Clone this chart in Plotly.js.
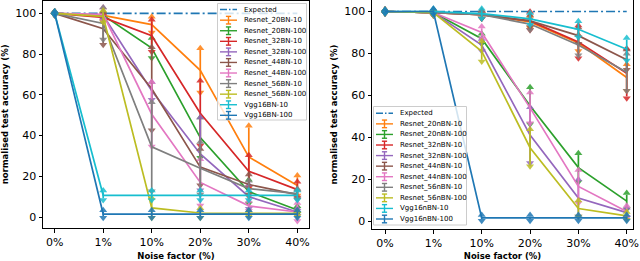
<!DOCTYPE html>
<html><head><meta charset="utf-8">
<script src="https://cdn.plot.ly/plotly-3.0.1.min.js"></script>
<style>html,body{margin:0;padding:0;background:#fff}#chart{width:640px;height:261px}</style>
</head><body><div id="chart"></div>
<script>
// ---------- data ----------
const noise = ['0%', '1%', '10%', '20%', '30%', '40%'];
const yTicks = [0, 20, 40, 60, 80, 100];
const expected = [100, 100, 100, 100, 100, 100];

const colors = ['#ff7f0e', '#2ca02c', '#d62728', '#9467bd', '#8c564b', '#e377c2', '#7f7f7f', '#bcbd22', '#17becf', '#1f77b4'];
const expectedColor = '#1f77b4';

// Left panel: BN
const namesBN = ['Resnet_20BN-10', 'Resnet_20BN-100', 'Resnet_32BN-10', 'Resnet_32BN-100', 'Resnet_44BN-10',
  'Resnet_44BN-100', 'Resnet_56BN-10', 'Resnet_56BN-100', 'Vgg16BN-10', 'Vgg16BN-100'];
const bn_r20_10 = [100, 99, 94.5, 72, 29.5, 15.5];
const bn_r20_10_err = [0, 1, 3, 10, 14.5, 4];
const bn_r20_100 = [100, 99, 83, 39, 12.5, 3.5];
const bn_r20_100_err = [0, 1, 4, 9, 5, 1];
const bn_r32_10 = [100, 98, 89, 51, 22.5, 13.5];
const bn_r32_10_err = [0, 1, 7, 15, 7, 3];
const bn_r32_100 = [100, 99, 62, 31, 10, 2.5];
const bn_r32_100_err = [0, 1, 3.5, 17, 5, 1];
const bn_r44_10 = [100, 92.5, 63, 24.5, 16, 11];
const bn_r44_10_err = [0, 7, 19.5, 8, 4, 1.5];
const bn_r44_100 = [100, 99.5, 50.5, 17, 5.5, 2.5];
const bn_r44_100_err = [0, 2.5, 15, 10.5, 1.5, 3.5];
const bn_r56_10 = [100, 95, 34.5, 24, 14, 11.5];
const bn_r56_10_err = [0, 7, 21, 12, 3, 1.5];
const bn_r56_100 = [100, 98.5, 4.5, 2, 1.8, 1.8];
const bn_r56_100_err = [0, 2, 4, 1.5, 0.5, 0.5];
const bn_vgg_10 = [100, 10.7, 10.7, 10.7, 10.7, 10.7];
const bn_vgg_10_err = [0, 1.5, 1.5, 1.5, 1.5, 1.5];
const bn_vgg_100 = [100, 1.5, 1.5, 1.5, 1.5, 1.5];
const bn_vgg_100_err = [0, 1, 1, 1, 1, 1];

// Right panel: nBN
const namesNBN = ['Resnet_20nBN-10', 'Resnet_20nBN-100', 'Resnet_32nBN-10', 'Resnet_32nBN-100', 'Resnet_44nBN-10',
  'Resnet_44nBN-100', 'Resnet_56nBN-10', 'Resnet_56nBN-100', 'Vgg16nBN-10', 'Vgg16nBN-100'];
const nbn_r20_10 = [100, 99.5, 98.5, 95, 85, 68.5];
const nbn_r20_10_err = [0, 0.5, 1, 2, 3, 5.5];
const nbn_r20_100 = [100, 99.5, 87, 55, 25.5, 9.5];
const nbn_r20_100_err = [0, 0.5, 1.5, 8, 6, 3];
const nbn_r32_10 = [100, 99.5, 98.5, 95.5, 85.5, 70.5];
const nbn_r32_10_err = [0, 0.5, 1, 3.5, 7, 11];
const nbn_r32_100 = [100, 99.5, 84, 41, 11, 4];
const nbn_r32_100_err = [0, 0.5, 2, 12.5, 8, 1.5];
const nbn_r44_10 = [100, 99.5, 98.5, 95.5, 88.5, 77];
const nbn_r44_10_err = [0, 0.5, 1, 2, 3, 4];
const nbn_r44_100 = [100, 99.5, 90, 54, 16.5, 4.5];
const nbn_r44_100_err = [0, 0.5, 2, 6.5, 7, 2];
const nbn_r56_10 = [100, 99.5, 98.5, 94, 84, 71];
const nbn_r56_10_err = [0, 0.5, 1, 2, 4, 8];
const nbn_r56_100 = [100, 99.5, 81, 35, 6, 2.5];
const nbn_r56_100_err = [0, 0.5, 4, 8, 3, 1];
const nbn_vgg_10 = [100, 100, 99, 96.5, 91.5, 82];
const nbn_vgg_10_err = [0, 0.5, 1.5, 2, 3, 4.5];
const nbn_vgg_100 = [100, 100, 1.5, 1.5, 1.5, 1.5];
const nbn_vgg_100_err = [0, 0.5, 0.5, 0.5, 0.5, 0.5];

const seriesBN = [
  [bn_r20_10, bn_r20_10_err], [bn_r20_100, bn_r20_100_err], [bn_r32_10, bn_r32_10_err], [bn_r32_100, bn_r32_100_err],
  [bn_r44_10, bn_r44_10_err], [bn_r44_100, bn_r44_100_err], [bn_r56_10, bn_r56_10_err], [bn_r56_100, bn_r56_100_err],
  [bn_vgg_10, bn_vgg_10_err], [bn_vgg_100, bn_vgg_100_err]];
const seriesNBN = [
  [nbn_r20_10, nbn_r20_10_err], [nbn_r20_100, nbn_r20_100_err], [nbn_r32_10, nbn_r32_10_err], [nbn_r32_100, nbn_r32_100_err],
  [nbn_r44_10, nbn_r44_10_err], [nbn_r44_100, nbn_r44_100_err], [nbn_r56_10, nbn_r56_10_err], [nbn_r56_100, nbn_r56_100_err],
  [nbn_vgg_10, nbn_vgg_10_err], [nbn_vgg_100, nbn_vgg_100_err]];

// ---------- build ----------
const W = 640, H = 261;
const FONT = 'DejaVu Sans, Liberation Sans, sans-serif';
const MS = 7;
const px = x => x / W;
const py = y => 1 - y / H;

const traces = [];
function addPanel(series, xa, ya) {
  traces.push({x: noise, y: expected, type: 'scatter', mode: 'lines', xaxis: xa, yaxis: ya, showlegend: false,
    line: {color: expectedColor, width: 1.6, dash: '9px,3px,2px,3px'}, hoverinfo: 'skip'});
  series.forEach((s, i) => {
    const vals = s[0], errs = s[1], c = colors[i];
    traces.push({x: noise, y: vals, type: 'scatter', mode: 'lines', xaxis: xa, yaxis: ya, showlegend: false,
      line: {color: c, width: 1.7},
      error_y: {type: 'data', array: errs, visible: true, color: c, thickness: 1.7, width: 0}});
    traces.push({x: noise, y: vals.map((v, k) => v + errs[k]), type: 'scatter', mode: 'markers', xaxis: xa, yaxis: ya,
      showlegend: false, marker: {symbol: 'triangle-down', angle: 180, standoff: MS / 4, size: MS, color: c, opacity: 0.85}});
    traces.push({x: noise, y: vals.map((v, k) => v - errs[k]), type: 'scatter', mode: 'markers', xaxis: xa, yaxis: ya,
      showlegend: false, marker: {symbol: 'triangle-down', angle: 0, standoff: MS / 4, size: MS, color: c, opacity: 0.85}});
  });
}
addPanel(seriesBN, 'x', 'y');
addPanel(seriesNBN, 'x2', 'y2');

const shapes = [], annotations = [];
function addLegend(names, left, right, top, bottom, firstY, step) {
  shapes.push({type: 'rect', xref: 'paper', yref: 'paper', x0: px(left), x1: px(right), y0: py(bottom), y1: py(top),
    fillcolor: 'rgba(255,255,255,0.8)', line: {color: '#cccccc', width: 1}});
  const sx0 = left + 2.5, sx1 = left + 19.5, xc = (sx0 + sx1) / 2, tx = left + 24;
  const labels = ['Expected'].concat(names);
  labels.forEach((lab, i) => {
    const yy = firstY + step * i;
    if (i === 0) {
      shapes.push({type: 'line', xref: 'paper', yref: 'paper', x0: px(sx0), x1: px(sx1), y0: py(yy), y1: py(yy),
        line: {color: expectedColor, width: 1.5, dash: '7px,2px,1.5px,2px'}});
    } else {
      const c = colors[i - 1];
      const ln = {color: c, width: 1.4};
      shapes.push({type: 'line', xref: 'paper', yref: 'paper', x0: px(sx0), x1: px(sx1), y0: py(yy), y1: py(yy), line: ln});
      shapes.push({type: 'line', xref: 'paper', yref: 'paper', x0: px(xc), x1: px(xc), y0: py(yy - 3.8), y1: py(yy + 3.8), line: ln});
      shapes.push({type: 'line', xref: 'paper', yref: 'paper', x0: px(xc - 2.6), x1: px(xc + 2.6), y0: py(yy - 3.8), y1: py(yy - 3.8), line: ln});
      shapes.push({type: 'line', xref: 'paper', yref: 'paper', x0: px(xc - 2.6), x1: px(xc + 2.6), y0: py(yy + 3.8), y1: py(yy + 3.8), line: ln});
    }
    annotations.push({xref: 'paper', yref: 'paper', x: px(tx), y: py(yy), xanchor: 'left', yanchor: 'middle',
      text: lab, showarrow: false, font: {family: FONT, size: 7, color: '#000'}});
  });
}
addLegend(namesBN, 217.5, 306.5, 3.5, 120, 9.6, 10.57);
addLegend(namesNBN, 373.5, 466.5, 106.5, 225, 113.3, 10.57);

function xAxis(dom, range, anchor) {
  return {domain: dom, anchor: anchor, type: 'category', range: range, showline: true, mirror: true,
    linecolor: '#000', linewidth: 1, ticks: 'outside', ticklen: 3.5, tickwidth: 1, tickcolor: '#000',
    tickfont: {family: FONT, size: 11, color: '#000'}, showgrid: false, zeroline: false,
    title: {text: '<b>Noise factor (%)</b>', font: {family: FONT, size: 8.5, color: '#000'}, standoff: 5}};
}
function yAxis(dom, range, anchor) {
  return {domain: dom, anchor: anchor, range: range, tickvals: yTicks, showline: true, mirror: true,
    linecolor: '#000', linewidth: 1, ticks: 'outside', ticklen: 3.5, tickwidth: 1, tickcolor: '#000',
    tickfont: {family: FONT, size: 11, color: '#000'}, showgrid: false, zeroline: false,
    title: {text: '<b>normalised test accuracy (%)</b>', font: {family: FONT, size: 8.5, color: '#000'}, standoff: 5}};
}

const layout = {
  width: W, height: H, margin: {l: 0, r: 0, t: 0, b: 0}, paper_bgcolor: '#fff', plot_bgcolor: '#fff',
  showlegend: false,
  xaxis: xAxis([px(43), px(309)], [-0.24, 5.24], 'y'),
  yaxis: yAxis([py(228.3), py(0.5)], [-5.5, 106.3], 'x'),
  xaxis2: xAxis([px(372), px(633)], [-0.27, 5.13], 'y2'),
  yaxis2: yAxis([py(229), py(0)], [-3.8, 105.5], 'x2'),
  shapes: shapes, annotations: annotations
};

Plotly.newPlot('chart', traces, layout, {staticPlot: true, displayModeBar: false});
</script>
</body></html>
